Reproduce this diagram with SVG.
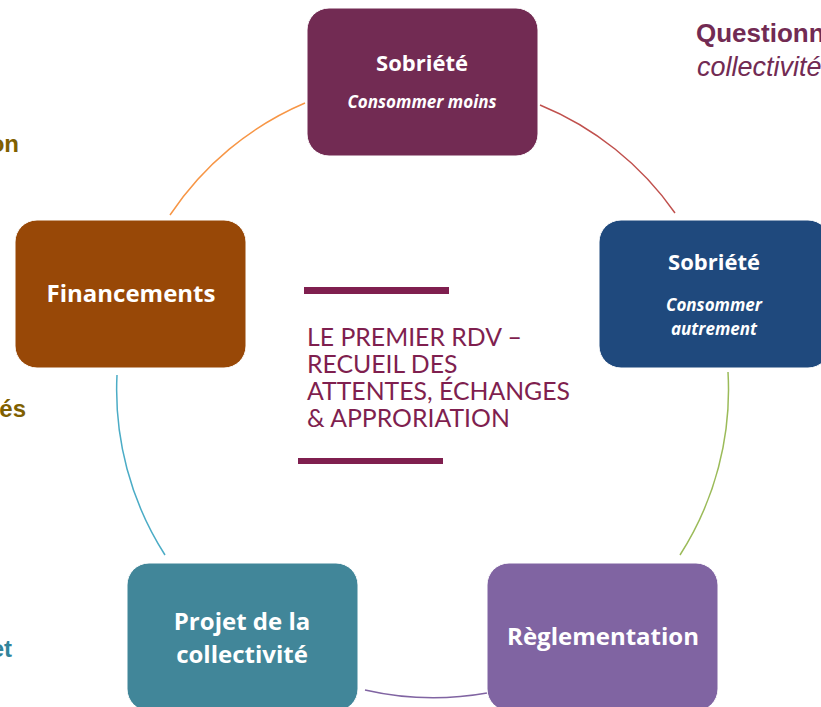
<svg xmlns="http://www.w3.org/2000/svg" width="821" height="707" viewBox="0 0 821 707">
<style>
.box{stroke:#ffffff;stroke-width:1}
.lbl{font-family:"Open Sans",Lato,"Liberation Sans",sans-serif;font-weight:bold;fill:#ffffff;text-anchor:middle}
.big{font-size:24px}
.sob{font-size:22px}
.sub{font-style:italic;font-size:17px}
.arc{fill:none;stroke-width:1.5}
.side{font-family:"Liberation Sans",Arial,sans-serif;font-weight:bold;font-size:26px}
.left{font-size:24px;text-anchor:end}
.center{font-family:Lato,"Open Sans","Liberation Sans",sans-serif;font-size:24.8px;fill:#7F1F4F}
</style>
<rect width="821" height="707" fill="#ffffff"/>
<g id="connectors">
<path class="arc" stroke="#C0504D" d="M540,105 A306,306 0 0 1 675,213"/>
<path class="arc" stroke="#9BBB59" d="M728,372 A306,306 0 0 1 680,555"/>
<path class="arc" stroke="#8064A2" d="M487,693 A306,306 0 0 1 365,690"/>
<path class="arc" stroke="#4BACC6" d="M165,555 A306,306 0 0 1 117,375"/>
<path class="arc" stroke="#F79646" d="M170,215 A306,306 0 0 1 305,103"/>
</g>
<g id="side-texts">
<text class="side" x="696" y="42" fill="#722B53">Questionn</text>
<text class="side" x="697" y="76" fill="#722B53" style="font-weight:normal;font-style:italic;font-size:27px">collectivité</text>
<text class="side left" x="19" y="152" fill="#7F6000">on</text>
<text class="side left" x="26" y="417" fill="#7F6000">és</text>
<text class="side left" x="12" y="657" fill="#31849B">et</text>
</g>
<g id="n-sobriete-moins">
<rect class="box" x="307" y="8" width="231" height="148" rx="22" fill="#722B53"/>
<text class="lbl sob" x="422" y="71">Sobriété</text>
<text class="lbl sub" x="422" y="108">Consommer moins</text>
</g>
<g id="n-sobriete-autrement">
<rect class="box" x="599" y="220" width="231" height="148" rx="22" fill="#1F497D"/>
<text class="lbl sob" x="714" y="270">Sobriété</text>
<text class="lbl sub" x="714" y="311">Consommer</text>
<text class="lbl sub" x="714" y="335">autrement</text>
</g>
<g id="n-reglementation">
<rect class="box" x="487" y="563" width="231" height="148" rx="22" fill="#8064A2"/>
<text class="lbl big" x="603" y="645">Règlementation</text>
</g>
<g id="n-projet">
<rect class="box" x="127" y="563" width="231" height="148" rx="22" fill="#418699"/>
<text class="lbl big" x="242" y="630">Projet de la</text>
<text class="lbl big" x="242" y="663">collectivité</text>
</g>
<g id="n-financements">
<rect class="box" x="15" y="220" width="231" height="148" rx="22" fill="#984807"/>
<text class="lbl big" x="131" y="302">Financements</text>
</g>
<g id="center">
<rect x="304" y="287" width="145" height="7" fill="#7F1F4F"/>
<rect x="298" y="458" width="145" height="6" fill="#7F1F4F"/>
<text class="center" x="307" y="346">LE PREMIER RDV –</text>
<text class="center" x="307" y="373">RECUEIL DES</text>
<text class="center" x="307" y="400">ATTENTES, ÉCHANGES</text>
<text class="center" x="307" y="427">&amp; APPRORIATION</text>
</g>
</svg>
